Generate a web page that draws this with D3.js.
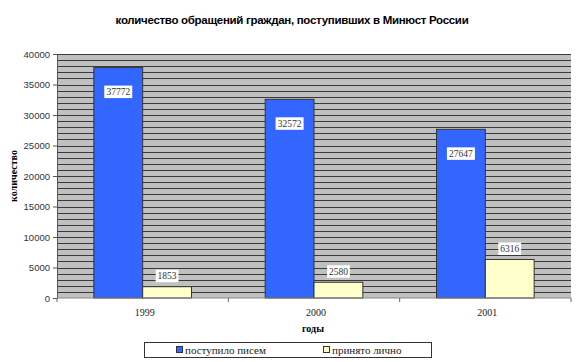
<!DOCTYPE html>
<html lang="ru">
  <head>
    <meta charset="UTF-8">
    <title>Обращения граждан</title>
    <style>
      body { margin: 0; background: #fff; }
      svg { display: block; }
    </style>
    <script src="https://d3js.org/d3.v7.min.js"></script>
  </head>
  <body>
    <script>
      var years = ["1999", "2000", "2001"];
      var letters = [37772, 32572, 27647];
      var inPerson = [1853, 2580, 6316];
      var seriesNames = ["поступило писем", "принято лично"];
      var yTicks = [0, 5000, 10000, 15000, 20000, 25000, 30000, 35000, 40000];

      var width = 581, height = 362;
      var margin = { top: 54, right: 10, bottom: 64, left: 57 };
      var colors = ["#3366ff", "#ffffcc"];

      var svg = d3.select("body").append("svg")
        .attr("width", width)
        .attr("height", height);

      var x = d3.scaleBand().domain(years)
        .range([margin.left, width - margin.right])
        .paddingInner(0.43).paddingOuter(0.215);
      var xSub = d3.scaleBand().domain([0, 1]).range([0, x.bandwidth()]);
      var y = d3.scaleLinear().domain([0, 40000])
        .range([height - margin.bottom, margin.top]);

      // plot area
      svg.append("rect")
        .attr("x", margin.left).attr("y", margin.top)
        .attr("width", width - margin.left - margin.right)
        .attr("height", height - margin.top - margin.bottom)
        .attr("fill", "#c0c0c0");

      // gridlines every 1000
      svg.append("g").selectAll("line")
        .data(d3.range(1000, 40001, 1000))
        .enter().append("line")
        .attr("x1", margin.left).attr("x2", width - margin.right)
        .attr("y1", function (d) { return Math.round(y(d)) + 0.5; })
        .attr("y2", function (d) { return Math.round(y(d)) + 0.5; })
        .attr("stroke", "#3a3a3a").attr("stroke-width", 1);

      var groups = [letters, inPerson];
      groups.forEach(function (vals, s) {
        svg.append("g").selectAll("rect")
          .data(vals).enter().append("rect")
          .attr("x", function (d, i) { return x(years[i]) + xSub(s); })
          .attr("y", function (d) { return y(d); })
          .attr("width", xSub.bandwidth())
          .attr("height", function (d) { return y(0) - y(d); })
          .attr("fill", colors[s])
          .attr("stroke", "#333").attr("stroke-width", 1);
      });

      // data labels
      groups.forEach(function (vals, s) {
        var lab = svg.append("g").selectAll("g")
          .data(vals).enter().append("g")
          .attr("transform", function (d, i) {
            var cx = x(years[i]) + xSub(s) + xSub.bandwidth() / 2;
            var cy = s === 0 ? y(d) + 24 : y(d) - 11;
            return "translate(" + cx + "," + cy + ")";
          });
        lab.append("rect")
          .attr("x", function (d) { return -String(d).length * 2.6 - 1; })
          .attr("y", -6)
          .attr("width", function (d) { return String(d).length * 5.2 + 2; })
          .attr("height", 12.5)
          .attr("fill", "#fff");
        lab.append("text")
          .attr("text-anchor", "middle")
          .attr("dy", "0.35em")
          .style("font", "9.5px 'Liberation Serif'")
          .attr("fill", "#333")
          .text(function (d) { return d; });
      });

      // y axis
      var yAxis = d3.axisLeft(y).tickValues(yTicks).tickSize(4).tickPadding(3)
        .tickFormat(d3.format("d"));
      var gy = svg.append("g")
        .attr("transform", "translate(" + margin.left + ",0)")
        .call(yAxis);
      gy.selectAll("text").style("font", "9.5px 'Liberation Sans'").attr("fill", "#333");
      gy.selectAll("line, path").attr("stroke", "#555");

      // x axis with ticks at category boundaries
      var gx = svg.append("g")
        .attr("transform", "translate(0," + y(0) + ")");
      gx.append("line")
        .attr("x1", margin.left).attr("x2", width - margin.right)
        .attr("stroke", "#888");
      var bounds = d3.range(0, years.length + 1).map(function (i) {
        return margin.left + i * (width - margin.left - margin.right) / years.length;
      });
      gx.selectAll(".tk").data(bounds).enter().append("line")
        .attr("x1", function (d) { return d; }).attr("x2", function (d) { return d; })
        .attr("y1", 0).attr("y2", 4).attr("stroke", "#666");
      gx.selectAll("text").data(years).enter().append("text")
        .attr("x", function (d) { return x(d) + x.bandwidth() / 2 + 2; })
        .attr("y", 18)
        .attr("text-anchor", "middle")
        .style("font", "10px 'Liberation Serif'")
        .attr("fill", "#222")
        .text(function (d) { return d; });

      // titles
      svg.append("text")
        .attr("x", 292).attr("y", 24)
        .attr("text-anchor", "middle")
        .style("font", "bold 11.5px 'Liberation Sans'")
        .attr("letter-spacing", "-0.3")
        .text("количество обращений граждан, поступивших в Минюст России");
      svg.append("text")
        .attr("transform", "translate(17," + ((margin.top + height - margin.bottom) / 2) + ") rotate(-90)")
        .attr("text-anchor", "middle")
        .style("font", "bold 10px 'Liberation Serif'")
        .text("количество");
      svg.append("text")
        .attr("x", 313).attr("y", 332)
        .attr("text-anchor", "middle")
        .style("font", "bold 10px 'Liberation Serif'")
        .text("годы");

      // legend
      var legend = svg.append("g");
      legend.append("rect")
        .attr("x", 144.5).attr("y", 342.5).attr("width", 287).attr("height", 15)
        .attr("fill", "#fff").attr("stroke", "#333");
      var legX = [176, 323];
      seriesNames.forEach(function (name, i) {
        legend.append("rect")
          .attr("x", legX[i] + 0.5).attr("y", 346.5).attr("width", 6).attr("height", 6)
          .attr("fill", colors[i]).attr("stroke", "#333");
        legend.append("text")
          .attr("x", legX[i] + 9).attr("y", 354)
          .style("font", "11px 'Liberation Serif'")
          .attr("fill", "#222")
          .text(name);
      });
    </script>
  </body>
</html>
